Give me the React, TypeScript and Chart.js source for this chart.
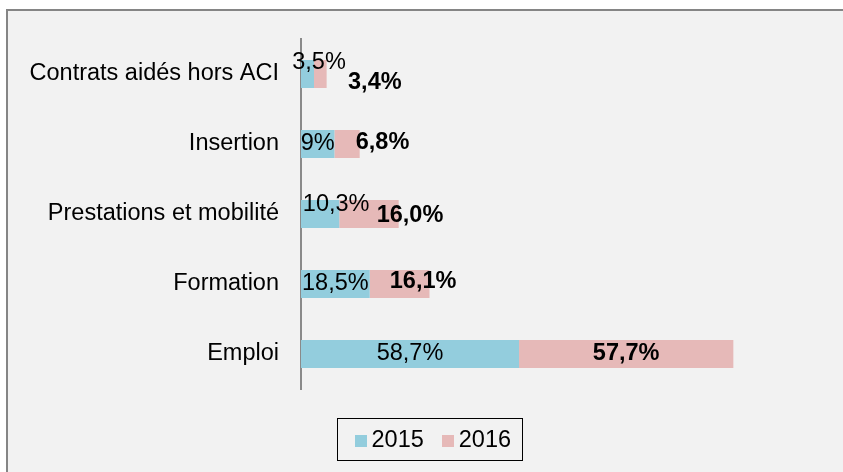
import React, { useEffect, useRef } from "react";
import { Chart, registerables } from "chart.js";

Chart.register(...registerables);

const categories = [
  "Contrats aidés hors ACI",
  "Insertion",
  "Prestations et mobilité",
  "Formation",
  "Emploi",
];
const seriesNames = ["2015", "2016"];
const values2015 = [3.5, 9, 10.3, 18.5, 58.7];
const values2016 = [3.4, 6.8, 16.0, 16.1, 57.7];

// label nudges (px) relative to the segment centre, as placed in the original
const labelOffsets2015 = [[11.5, -11], [0, 0], [16, -9], [0, 0], [0, 0]];
const labelOffsets2016 = [[54.5, 8.5], [35.5, -1.5], [41, 2], [23.5, -2.5], [0, 0]];

const COLORS = ["#93CDDD", "#E6B9B8"];
const FONT = '"Liberation Sans", Arial, sans-serif';
const FS = 23.5;

const fmt2015 = (v: number) => (Number.isInteger(v) ? String(v) : v.toFixed(1).replace(".", ",")) + "%";
const fmt2016 = (v: number) => v.toFixed(1).replace(".", ",") + "%";

const labelPlugin = {
  id: "barLabels",
  afterDatasetsDraw(chart: any) {
    const ctx = chart.ctx;
    const offsets = [labelOffsets2015, labelOffsets2016];
    const fmts = [fmt2015, fmt2016];
    ctx.save();
    ctx.textAlign = "center";
    ctx.textBaseline = "middle";
    ctx.fillStyle = "#000";
    chart.data.datasets.forEach((ds: any, di: number) => {
      const meta = chart.getDatasetMeta(di);
      ctx.font = (di === 1 ? "bold " : "") + FS + "px " + FONT;
      meta.data.forEach((bar: any, i: number) => {
        const { x, y, base } = bar.getProps(["x", "y", "base"], true);
        const off = offsets[di][i];
        const cx = (x + base) / 2 + off[0];
        const cy = y + off[1];
        ctx.fillText(fmts[di](ds.data[i]), cx, cy);
      });
    });
    ctx.restore();
  },
};

export default function App() {
  const canvasRef = useRef<HTMLCanvasElement | null>(null);

  useEffect(() => {
    if (!canvasRef.current) return;
    const chart = new Chart(canvasRef.current, {
      type: "bar",
      data: {
        labels: categories,
        datasets: [
          {
            label: seriesNames[0],
            data: values2015,
            backgroundColor: COLORS[0],
            borderWidth: 0,
            categoryPercentage: 0.8,
            barPercentage: 0.5,
          },
          {
            label: seriesNames[1],
            data: values2016,
            backgroundColor: COLORS[1],
            borderWidth: 0,
            categoryPercentage: 0.8,
            barPercentage: 0.5,
          },
        ],
      },
      options: {
        indexAxis: "y",
        responsive: false,
        animation: false,
        devicePixelRatio: 1,
        layout: { padding: { top: 39, bottom: 83, left: 0, right: 22 } },
        plugins: {
          legend: { display: false },
          tooltip: { enabled: false },
        },
        scales: {
          x: {
            stacked: true,
            display: false,
            min: 0,
            max: 140,
          },
          y: {
            stacked: true,
            grid: { display: false, drawTicks: false },
            border: { display: true, color: "#8a8a8a", width: 2 },
            ticks: {
              autoSkip: false,
              padding: 22,
              color: "#000",
              font: { family: FONT, size: FS },
            },
            afterFit: (scale: any) => {
              scale.width = 301;
            },
          },
        },
      },
      plugins: [labelPlugin],
    });
    return () => chart.destroy();
  }, []);

  return (
    <div
      style={{
        position: "fixed",
        left: 0,
        top: 0,
        width: 843,
        height: 472,
        background: "#fff",
        overflow: "hidden",
      }}
    >
      <div
        style={{
          position: "absolute",
          left: 6,
          top: 9,
          width: 900,
          height: 500,
          borderLeft: "2px solid #858585",
          borderTop: "2px solid #858585",
          background: "#f2f2f2",
        }}
      />
      <canvas
        ref={canvasRef}
        width={843}
        height={472}
        style={{ position: "absolute", left: 0, top: 0, width: 843, height: 472 }}
      />
      <div
        style={{
          position: "absolute",
          left: 337,
          top: 418,
          width: 186,
          height: 43,
          boxSizing: "border-box",
          border: "1.5px solid #000",
          display: "flex",
          alignItems: "center",
          paddingLeft: 16.5,
          fontFamily: FONT,
          fontSize: FS,
          lineHeight: FS + "px",
          color: "#000",
        }}
      >
        {seriesNames.map((name, i) => (
          <div key={name} style={{ display: "flex", alignItems: "center", marginRight: 18 }}>
            <span
              style={{
                display: "inline-block",
                width: 12,
                height: 12,
                background: COLORS[i],
                marginRight: 5,
                marginTop: 2,
              }}
            />
            <span>{name}</span>
          </div>
        ))}
      </div>
    </div>
  );
}
